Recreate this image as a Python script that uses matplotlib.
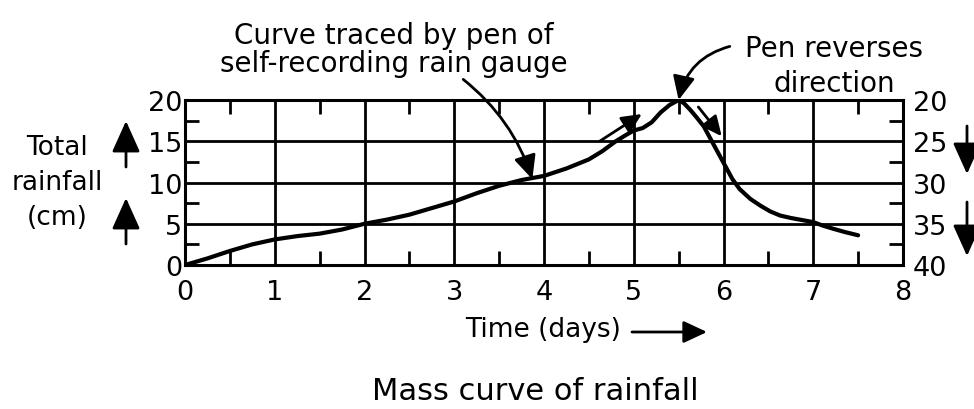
"""Mass curve of rainfall traced by a self-recording rain gauge."""

import matplotlib

matplotlib.use("Agg")

import matplotlib.pyplot as plt
from matplotlib.patches import FancyArrowPatch
from matplotlib.ticker import MultipleLocator

# rising limb, read on the left scale (cm)
days_rise = [0, 0.25, 0.5, 0.75, 1.0, 1.25, 1.5, 1.75, 2.0, 2.25, 2.5, 2.75,
             3.0, 3.25, 3.5, 3.75, 4.0, 4.25, 4.5, 4.65, 4.8, 4.92, 5.0, 5.1,
             5.2, 5.3, 5.4, 5.5]
rain_rise = [0, 0.8, 1.7, 2.5, 3.1, 3.5, 3.8, 4.3, 5.0, 5.5, 6.1, 6.9,
             7.7, 8.7, 9.6, 10.3, 10.8, 11.7, 12.8, 13.8, 15.0, 15.8, 16.3, 16.6,
             17.3, 18.5, 19.4, 20.0]

# after the pen reverses, read on the right scale (cm)
days_fall = [5.5, 5.56, 5.63, 5.7, 5.78, 5.85, 5.92, 6.04, 6.1, 6.18, 6.3,
             6.41, 6.52, 6.63, 6.75, 6.85, 7.0, 7.1, 7.22, 7.35, 7.5]
rain_fall = [20.0, 20.4, 21.2, 22.1, 23.2, 24.6, 26.0, 28.4, 29.6, 30.8, 32.0,
             32.8, 33.5, 34.0, 34.3, 34.5, 34.8, 35.2, 35.6, 36.0, 36.4]

left_ticks = [0, 5, 10, 15, 20]
right_ticks = [20, 25, 30, 35, 40]
day_ticks = [0, 1, 2, 3, 4, 5, 6, 7, 8]

W, H = 974, 410


def fx(px):
    return px / W


def fy(py):
    # image pixel rows count from the top
    return 1 - py / H


def plot_mass_curve(save_path="out.png"):
    plt.rcParams["font.family"] = "DejaVu Sans"
    fig = plt.figure(figsize=(W / 100, H / 100), dpi=100)
    ax = fig.add_axes([fx(185), fy(266), fx(903) - fx(185), fy(101) - fy(266)])

    ax.set_xlim(0, 8)
    ax.set_ylim(0, 20)
    ax.set_xticks(day_ticks)
    ax.set_yticks(left_ticks)
    ax.xaxis.set_minor_locator(MultipleLocator(0.5))
    ax.yaxis.set_minor_locator(MultipleLocator(2.5))
    ax.grid(True, which="major", color="black", lw=2)
    for sp in ax.spines.values():
        sp.set_linewidth(2.2)

    ax2 = ax.twinx()
    ax2.set_ylim(40, 20)
    ax2.set_yticks(right_ticks)
    ax2.tick_params(length=0, labelsize=19.5, pad=7)
    for sp in ax2.spines.values():
        sp.set_visible(False)

    # twinx moves the left axis ticks to the left only, so set them after it
    ax.tick_params(which="major", length=0, labelsize=19.5)
    ax.tick_params(axis="x", which="major", pad=10)
    ax.tick_params(axis="y", which="major", pad=2)
    ax.tick_params(which="minor", direction="in", length=10, width=2,
                   left=True, bottom=True, top=True, right=True)

    ax.plot(days_rise, rain_rise, color="black", lw=3, solid_capstyle="round",
            solid_joinstyle="round")
    ax2.plot(days_fall, rain_fall, color="black", lw=3, solid_capstyle="round",
             solid_joinstyle="round")

    head = dict(arrowstyle="-|>,head_length=0.6,head_width=0.28",
                mutation_scale=24, color="black", lw=2, shrinkA=0, shrinkB=0)

    # callouts
    ax.annotate("", xy=(3.87, 10.4), xytext=(3.10, 22.5), annotation_clip=False,
                arrowprops=dict(head, connectionstyle="arc3,rad=-0.15"))
    ax.annotate("", xy=(5.5, 20.0), xytext=(6.07, 26.5), annotation_clip=False,
                arrowprops=dict(head, connectionstyle="arc3,rad=0.3"))
    ax.annotate("", xy=(5.09, 18.3), xytext=(4.62, 15.0),
                arrowprops=dict(head, mutation_scale=20))
    ax.annotate("", xy=(5.98, 15.6), xytext=(5.72, 19.15),
                arrowprops=dict(head, mutation_scale=20))

    # va="baseline" pins the last line of a multi-line text
    fig.text(fx(394), fy(72), "Curve traced by pen of\nself-recording rain gauge",
             ha="center", va="baseline", fontsize=20, linespacing=1.0)
    fig.text(fx(834), fy(92), "Pen reverses\ndirection",
             ha="center", va="baseline", fontsize=20, linespacing=1.34)

    # axis titles with direction arrows
    fig.text(fx(57), fy(225), "Total\nrainfall\n(cm)", ha="center",
             va="baseline", fontsize=19, linespacing=1.45)
    fig.text(fx(543), fy(337), "Time (days)", ha="center", va="baseline",
             fontsize=19)
    fig.text(fx(535), fy(400), "Mass curve of rainfall", ha="center",
             va="baseline", fontsize=22)

    big = dict(arrowstyle="-|>,head_length=0.8,head_width=0.36",
               mutation_scale=24, color="black", lw=2, shrinkA=0, shrinkB=0)
    for y0, y1 in [(168, 122), (245, 199)]:
        fig.add_artist(FancyArrowPatch((fx(126), fy(y0)), (fx(126), fy(y1)),
                                       transform=fig.transFigure, **big))
    for y0, y1 in [(127, 175), (203, 257)]:
        fig.add_artist(FancyArrowPatch((fx(967), fy(y0)), (fx(967), fy(y1)),
                                       transform=fig.transFigure, **big))
    fig.add_artist(FancyArrowPatch((fx(632), fy(333)), (fx(707), fy(333)),
                                   transform=fig.transFigure, **head))

    fig.savefig(save_path, dpi=100, facecolor="white")
    plt.close(fig)


if __name__ == "__main__":
    plot_mass_curve()
